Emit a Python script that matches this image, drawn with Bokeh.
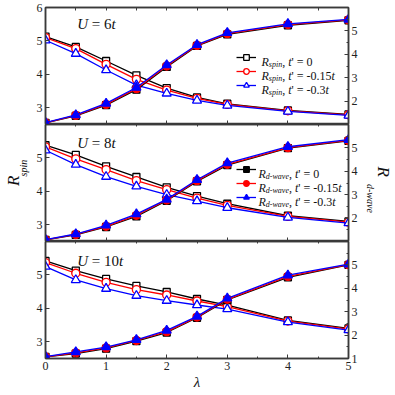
import math
from bokeh.plotting import figure
from bokeh.models import Range1d, LinearAxis, FixedTicker, Label, Legend, LegendItem
from bokeh.layouts import column, row
from bokeh.embed import file_html
from bokeh.resources import INLINE

# ---------------- data ----------------
lam = [0, 0.5, 1, 1.5, 2, 2.5, 3, 4, 5]
u_values = ["6", "8", "10"]
tprime = ["0", "-0.15", "-0.3"]

spin_U6_t0 = [5.13, 4.82, 4.40, 3.97, 3.59, 3.31, 3.12, 2.92, 2.80]
spin_U6_t015 = [5.10, 4.77, 4.30, 3.85, 3.53, 3.28, 3.10, 2.91, 2.79]
spin_U6_t03 = [5.02, 4.62, 4.13, 3.68, 3.43, 3.22, 3.07, 2.89, 2.77]
dwave_U6_t0 = [1.07, 1.37, 1.83, 2.49, 3.46, 4.36, 4.85, 5.24, 5.45]
dwave_U6_t015 = [1.07, 1.39, 1.86, 2.53, 3.50, 4.38, 4.88, 5.27, 5.47]
dwave_U6_t03 = [1.08, 1.41, 1.90, 2.58, 3.54, 4.41, 4.92, 5.30, 5.49]

spin_U8_t0 = [5.38, 5.09, 4.75, 4.43, 4.12, 3.86, 3.63, 3.27, 3.10]
spin_U8_t015 = [5.33, 4.97, 4.65, 4.32, 4.05, 3.80, 3.58, 3.25, 3.08]
spin_U8_t03 = [5.23, 4.80, 4.44, 4.15, 3.90, 3.71, 3.51, 3.22, 3.05]
dwave_U8_t0 = [1.07, 1.28, 1.62, 2.07, 2.74, 3.57, 4.26, 4.99, 5.30]
dwave_U8_t015 = [1.07, 1.30, 1.65, 2.12, 2.77, 3.60, 4.30, 5.01, 5.32]
dwave_U8_t03 = [1.08, 1.32, 1.69, 2.17, 2.80, 3.64, 4.35, 5.05, 5.35]

spin_U10_t0 = [5.42, 5.13, 4.88, 4.67, 4.49, 4.28, 4.10, 3.64, 3.40]
spin_U10_t015 = [5.37, 5.05, 4.78, 4.56, 4.40, 4.22, 4.05, 3.62, 3.38]
spin_U10_t03 = [5.25, 4.85, 4.59, 4.38, 4.23, 4.10, 3.98, 3.59, 3.35]
dwave_U10_t0 = [1.07, 1.21, 1.42, 1.74, 2.11, 2.74, 3.50, 4.47, 5.00]
dwave_U10_t015 = [1.07, 1.24, 1.45, 1.77, 2.15, 2.77, 3.53, 4.51, 5.01]
dwave_U10_t03 = [1.08, 1.28, 1.49, 1.80, 2.20, 2.80, 3.57, 4.56, 5.03]

spin_data = [[spin_U6_t0, spin_U6_t015, spin_U6_t03],
             [spin_U8_t0, spin_U8_t015, spin_U8_t03],
             [spin_U10_t0, spin_U10_t015, spin_U10_t03]]
dwave_data = [[dwave_U6_t0, dwave_U6_t015, dwave_U6_t03],
              [dwave_U8_t0, dwave_U8_t015, dwave_U8_t03],
              [dwave_U10_t0, dwave_U10_t015, dwave_U10_t03]]

x_ticks = [0, 1, 2, 3, 4, 5]
x_minor = [0.5, 1.5, 2.5, 3.5, 4.5]
x_all = [0.5, 1, 1.5, 2, 2.5, 3, 3.5, 4, 4.5]
left_ticks_top = [3, 4, 5, 6]
left_ticks = [3, 4, 5]
right_ticks_inner = [2, 3, 4, 5]
right_ticks = [1, 2, 3, 4, 5]
right_minor = [1.5, 2.5, 3.5, 4.5, 5.5]

# ---------------- style ----------------
FONT = "Liberation Serif"
AX = "#3a3a3a"
TXT = "#111111"
colors = ["#000000", "#ff0000", "#0000ff"]
markers = ["square", "circle", "triangle"]
sizes = [7, 8, 9]
FRAME_H = 117
FRAME_W = 303
BL, BR = 13, 12
PANEL_W = BL + FRAME_W + BR
LEFT_W, RIGHT_W = 32, 33
TOP_B = 7
BOT_B = 35
TOTAL_H = TOP_B + 3 * FRAME_H + BOT_B

W_REG = {' ': 250, ',': 250, "'": 180, '=': 564, '-': 333, '.': 250, 't': 278}
W_REG.update({d: 500 for d in '0123456789'})
W_IT = {'R': 611, 'U': 722, 't': 278, 's': 389, 'p': 500, 'i': 278, 'n': 500,
        'd': 500, '-': 333, 'w': 667, 'a': 500, 'v': 444, 'e': 444, ' ': 250}


def text_width(s, italic, size):
    tbl = W_IT if italic else W_REG
    return sum(tbl.get(c, 500) for c in s) * size / 1000.0


def px_to_data(xp, yp):
    return xp * 5.0 / FRAME_W, 2.5 + yp * 3.5 / FRAME_H


def place(p, pieces, x, y):
    cx = x
    for txt, italic, size, dy in pieces:
        lead = len(txt) - len(txt.lstrip(" "))
        shown = txt.strip(" ")
        sx = cx + text_width(" " * lead, italic, size)
        dx, dyv = px_to_data(sx, y + dy)
        p.add_layout(Label(x=dx, y=dyv, text=shown,
                           text_font=FONT, text_font_style="italic" if italic else "normal",
                           text_font_size=f"{size}px", text_color=TXT,
                           text_align="left", text_baseline="alphabetic"))
        cx += text_width(txt, italic, size)


def style_axis(ax, minor_in=2):
    ax.axis_line_color = AX
    ax.axis_line_width = 1.5
    ax.major_tick_line_color = AX
    ax.minor_tick_line_color = AX
    ax.major_tick_in = 4
    ax.major_tick_out = 0
    ax.minor_tick_in = minor_in
    ax.minor_tick_out = 0
    ax.major_label_text_font = FONT
    ax.major_label_text_font_size = "12px"
    ax.major_label_text_color = "#222222"
    ax.major_label_standoff = 3


def tick_only_axis(ticks, length):
    ax = LinearAxis(ticker=FixedTicker(ticks=[], minor_ticks=ticks))
    ax.axis_line_color = AX
    ax.axis_line_width = 1.5
    ax.minor_tick_line_color = AX
    ax.minor_tick_in = length
    ax.minor_tick_out = 0
    ax.major_tick_in = 0
    ax.major_tick_out = 0
    ax.major_label_standoff = 0
    return ax


def blank_fig(w, h):
    s = figure(width=w, height=h, x_range=Range1d(0, w), y_range=Range1d(0, h),
               x_axis_location=None, y_axis_location=None,
               output_backend="svg", toolbar_location=None,
               min_border_left=0, min_border_right=0, min_border_top=0, min_border_bottom=0)
    s.grid.visible = False
    s.outline_line_color = None
    s.background_fill_color = "white"
    s.border_fill_color = "white"
    return s


figs = []
for i in range(3):
    top = TOP_B if i == 0 else 0
    bottom = BOT_B if i == 2 else 0
    p = figure(width=PANEL_W, height=FRAME_H + top + bottom,
               x_range=Range1d(0, 5), y_range=Range1d(2.5, 6),
               x_axis_location=None, y_axis_location=None,
               output_backend="svg", toolbar_location=None,
               min_border_left=BL, min_border_right=BR,
               min_border_top=top, min_border_bottom=bottom)
    p.extra_y_ranges = {"dw": Range1d(1, 6)}
    p.grid.visible = False
    p.outline_line_color = AX
    p.outline_line_width = 1.5
    p.background_fill_color = "white"
    p.border_fill_color = "white"

    if i == 2:
        bax = LinearAxis(ticker=FixedTicker(ticks=x_ticks, minor_ticks=x_minor))
        style_axis(bax)
        bax.axis_label = "λ"
        bax.axis_label_text_font = FONT
        bax.axis_label_text_font_style = "italic"
        bax.axis_label_text_font_size = "15px"
        bax.axis_label_text_color = TXT
        bax.axis_label_standoff = 1
        p.add_layout(bax, "below")
        p.add_layout(tick_only_axis(x_minor, 2), "above")
    else:
        p.add_layout(tick_only_axis(x_ticks, 4), "below")
        if i == 0:
            p.add_layout(tick_only_axis(x_all, 3), "above")
        else:
            p.add_layout(tick_only_axis(x_minor, 2), "above")

    lax = LinearAxis(ticker=FixedTicker(ticks=left_ticks_top if i == 0 else left_ticks))
    style_axis(lax, minor_in=0)
    p.add_layout(lax, "left")
    rax = LinearAxis(y_range_name="dw",
                     ticker=FixedTicker(ticks=right_ticks if i == 2 else right_ticks_inner,
                                        minor_ticks=right_minor))
    style_axis(rax)
    p.add_layout(rax, "right")

    spin_r = []
    dw_r = []
    for k in range(3):
        l1 = p.line(lam, spin_data[i][k], line_color=colors[k], line_width=1.3)
        m1 = p.scatter(lam, spin_data[i][k], marker=markers[k], size=sizes[k],
                       line_color=colors[k], fill_color="white", line_width=1.3)
        spin_r.append((l1, m1))
    for k in range(3):
        l2 = p.line(lam, dwave_data[i][k], line_color=colors[k], line_width=1.3, y_range_name="dw")
        m2 = p.scatter(lam, dwave_data[i][k], marker=markers[k], size=sizes[k],
                       line_color=colors[k], fill_color=colors[k], line_width=1.3,
                       y_range_name="dw")
        dw_r.append((l2, m2))

    # U label
    u_base = [100.1, 98.7, 97.4][i]
    place(p, [("U", True, 15, 0), (" = " + u_values[i], False, 15, 0), ("t", True, 15, 0)],
          31.7, u_base)

    # legends
    if i in (0, 1):
        rends = spin_r if i == 0 else dw_r
        sub = "spin" if i == 0 else "d-wave"
        ly = 32 if i == 0 else 37
        tx = 216 if i == 0 else 213
        items = [LegendItem(label=" ", renderers=list(r)) for r in rends]
        leg = Legend(items=items, location=(191, ly), orientation="vertical",
                     glyph_width=20, glyph_height=14, label_height=14, label_width=1,
                     spacing=0, padding=0, margin=0, label_standoff=0,
                     label_text_font_size="1px", border_line_alpha=0,
                     background_fill_alpha=0)
        p.add_layout(leg)
        for k in range(3):
            row_c = ly + 35 - 14 * k
            base = row_c - 4
            pieces = [("R", True, 12, 0), (sub, True, 8, -3), (", ", False, 12, 0),
                      ("t", True, 12, 0), ("' = " + tprime[k], False, 12, 0)]
            if tprime[k] != "0":
                pieces.append(("t", True, 12, 0))
            place(p, pieces, tx, base)
    figs.append(p)

# side strips with the axis titles
left = blank_fig(LEFT_W, TOTAL_H)
left.add_layout(Label(x=12.5, y=207.5, text="R", angle=math.pi / 2, text_font=FONT,
                      text_font_style="italic", text_font_size="17px", text_color=TXT,
                      text_align="left", text_baseline="middle"))
left.add_layout(Label(x=23, y=217, text="spin", angle=math.pi / 2, text_font=FONT,
                      text_font_style="italic", text_font_size="10px", text_color=TXT,
                      text_align="left", text_baseline="middle"))

right = blank_fig(RIGHT_W, TOTAL_H)
right.add_layout(Label(x=22.5, y=227, text="R", angle=-math.pi / 2, text_font=FONT,
                       text_font_style="italic", text_font_size="17px", text_color=TXT,
                       text_align="left", text_baseline="middle"))
right.add_layout(Label(x=9.5, y=209.5, text="d-wave", angle=-math.pi / 2, text_font=FONT,
                       text_font_style="italic", text_font_size="10px", text_color=TXT,
                       text_align="left", text_baseline="middle"))

layout = row(left, column(*figs, spacing=0), right, spacing=0)
open("out.html", "w").write(file_html(layout, INLINE))
